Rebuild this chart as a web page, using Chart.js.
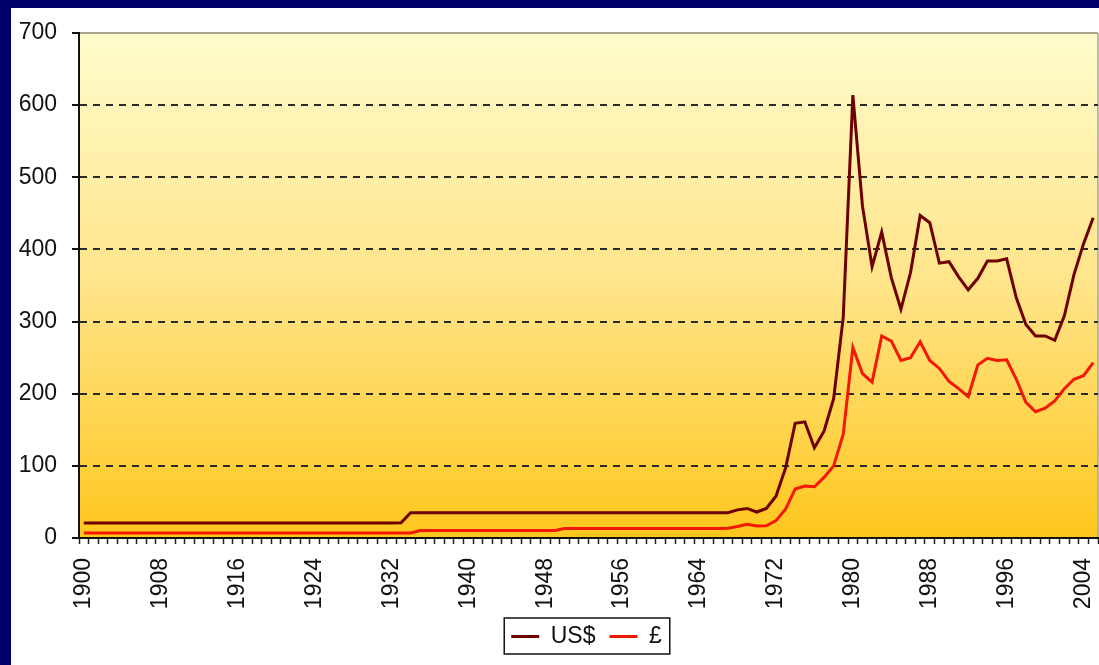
<!DOCTYPE html>
<html>
<head>
<meta charset="utf-8">
<script src="https://cdn.jsdelivr.net/npm/chart.js@4.4.1/dist/chart.umd.min.js"></script>
<style>
  html, body { margin: 0; padding: 0; width: 1099px; height: 665px; overflow: hidden; background: #00006c; }
  #panel { position: absolute; left: 11px; top: 8px; width: 1088px; height: 657px; background: #fff; }
</style>
</head>
<body>
<div id="panel"><canvas id="goldChart" width="1088" height="657"></canvas></div>
<script>
const years = [
  1900, 1901, 1902, 1903, 1904, 1905, 1906, 1907, 1908, 1909,
  1910, 1911, 1912, 1913, 1914, 1915, 1916, 1917, 1918, 1919,
  1920, 1921, 1922, 1923, 1924, 1925, 1926, 1927, 1928, 1929,
  1930, 1931, 1932, 1933, 1934, 1935, 1936, 1937, 1938, 1939,
  1940, 1941, 1942, 1943, 1944, 1945, 1946, 1947, 1948, 1949,
  1950, 1951, 1952, 1953, 1954, 1955, 1956, 1957, 1958, 1959,
  1960, 1961, 1962, 1963, 1964, 1965, 1966, 1967, 1968, 1969,
  1970, 1971, 1972, 1973, 1974, 1975, 1976, 1977, 1978, 1979,
  1980, 1981, 1982, 1983, 1984, 1985, 1986, 1987, 1988, 1989,
  1990, 1991, 1992, 1993, 1994, 1995, 1996, 1997, 1998, 1999,
  2000, 2001, 2002, 2003, 2004, 2005
];

// gold price, US$ per ounce
const usd = [
  20.67, 20.67, 20.67, 20.67, 20.67, 20.67, 20.67, 20.67, 20.67, 20.67,
  20.67, 20.67, 20.67, 20.67, 20.67, 20.67, 20.67, 20.67, 20.67, 20.67,
  20.67, 20.67, 20.67, 20.67, 20.67, 20.67, 20.67, 20.67, 20.67, 20.67,
  20.67, 20.67, 20.67, 21, 35, 35, 35, 35, 35, 35,
  35, 35, 35, 35, 35, 35, 35, 35, 35, 35,
  35, 35, 35, 35, 35, 35, 35, 35, 35, 35,
  35, 35, 35, 35, 35, 35, 35, 35, 39, 41,
  36, 41, 58, 97, 159, 161, 125, 148, 193, 306,
  614, 460, 376, 424, 361, 317, 368, 447, 437, 381,
  383, 362, 344, 360, 384, 384, 387, 333, 296, 280,
  280, 274, 308, 365, 408, 444
];

// gold price, £ per ounce
const gbp = [
  7, 7, 7, 7, 7, 7, 7, 7, 7, 7,
  7, 7, 7, 7, 7, 7, 7, 7, 7, 7,
  7, 7, 7, 7, 7, 7, 7, 7, 7, 7,
  7, 7, 7, 7, 7, 10.5, 10.5, 10.5, 10.5, 10.5,
  10.5, 10.5, 10.5, 10.5, 10.5, 10.5, 10.5, 10.5, 10.5, 10.5,
  13, 13, 13, 13, 13, 13, 13, 13, 13, 13,
  13, 13, 13, 13, 13, 13, 13, 13.5, 16, 19,
  16.5, 17, 24, 40, 68, 72, 71, 84, 100, 144,
  264, 228, 216, 280, 273, 246, 250, 272, 246, 235,
  217, 207, 196, 240, 249, 246, 247, 220, 188, 175,
  180, 190, 207, 220, 225, 243
];

Chart.defaults.font.family = "'Liberation Sans', Arial, sans-serif";
Chart.defaults.color = '#111';

const plotBackground = {
  id: 'plotBackground',
  beforeDraw(chart) {
    const { ctx, chartArea: a } = chart;
    const g = ctx.createLinearGradient(0, a.top, 0, a.bottom);
    g.addColorStop(0, '#fffccd');
    g.addColorStop(0.5, '#ffe489');
    g.addColorStop(1, '#ffc71d');
    ctx.save();
    ctx.fillStyle = g;
    ctx.fillRect(a.left, a.top, a.right - a.left, a.bottom - a.top);
    ctx.strokeStyle = '#a9a690';
    ctx.lineWidth = 2;
    ctx.beginPath();
    ctx.moveTo(a.left, a.top);
    ctx.lineTo(a.right, a.top);
    ctx.stroke();
    ctx.lineWidth = 1.5;
    ctx.beginPath();
    ctx.moveTo(a.right, a.top);
    ctx.lineTo(a.right, a.bottom);
    ctx.stroke();
    ctx.restore();
  }
};

// legend sits a little right of centre, inside a black frame
const legendBox = {
  id: 'legendBox',
  afterLayout(chart) {
    const lg = chart.legend;
    if (!lg) return;
    lg.left += 30;
    lg.right += 30;
  },
  afterDraw(chart) {
    const boxes = chart.legend && chart.legend.legendHitBoxes;
    if (!boxes || !boxes.length) return;
    const first = boxes[0], last = boxes[boxes.length - 1];
    const x0 = first.left - 7, x1 = last.left + last.width + 8;
    const y0 = first.top - 7, y1 = first.top + first.height + 6;
    const ctx = chart.ctx;
    ctx.save();
    ctx.strokeStyle = '#111';
    ctx.lineWidth = 1.5;
    ctx.strokeRect(x0, y0, x1 - x0, y1 - y0);
    ctx.restore();
  }
};

new Chart(document.getElementById('goldChart'), {
  type: 'line',
  data: {
    labels: years,
    datasets: [
      { label: 'US$', data: usd, borderColor: '#6e0000', backgroundColor: '#6e0000', borderWidth: 3, pointRadius: 0, tension: 0 },
      { label: '£', data: gbp, borderColor: '#f41800', backgroundColor: '#f41800', borderWidth: 3, pointRadius: 0, tension: 0 }
    ]
  },
  options: {
    responsive: false,
    animation: false,
    layout: { padding: { left: 4, right: 1, top: 25, bottom: 7 } },
    plugins: {
      tooltip: { enabled: false },
      legend: {
        position: 'bottom',
        labels: { usePointStyle: true, pointStyle: 'line', pointStyleWidth: 28, padding: 14, color: '#111', font: { size: 23 } }
      }
    },
    scales: {
      x: {
        type: 'category',
        offset: true,
        grid: { offset: true, drawOnChartArea: false, tickLength: 6, tickColor: '#222', tickWidth: 1.5, tickBorderDash: [] },
        border: { color: '#111', width: 2 },
        ticks: {
          autoSkip: false, minRotation: 90, maxRotation: 90, padding: 14, color: '#111', font: { size: 23 },
          callback: (v, i) => ((years[i] - 1900) % 8 === 0 ? String(years[i]) : '')
        },
        afterFit: (s) => { s.height = 73; s.paddingLeft = 0; s.paddingRight = 0; }
      },
      y: {
        min: 0,
        max: 700,
        ticks: { stepSize: 100, padding: 15, color: '#111', font: { size: 23 } },
        grid: {
          color: (c) => (c.tick && (c.tick.value === 0 || c.tick.value === 700) ? 'rgba(0,0,0,0)' : '#2a2a2a'),
          lineWidth: 2, tickLength: 7, tickColor: '#111', tickWidth: 2, tickBorderDash: []
        },
        border: { color: '#111', width: 2, dash: [7, 6] },
        afterFit: (s) => { s.width = 64; s.paddingTop = 0; s.paddingBottom = 0; }
      }
    }
  },
  plugins: [plotBackground, legendBox]
});
</script>
</body>
</html>
